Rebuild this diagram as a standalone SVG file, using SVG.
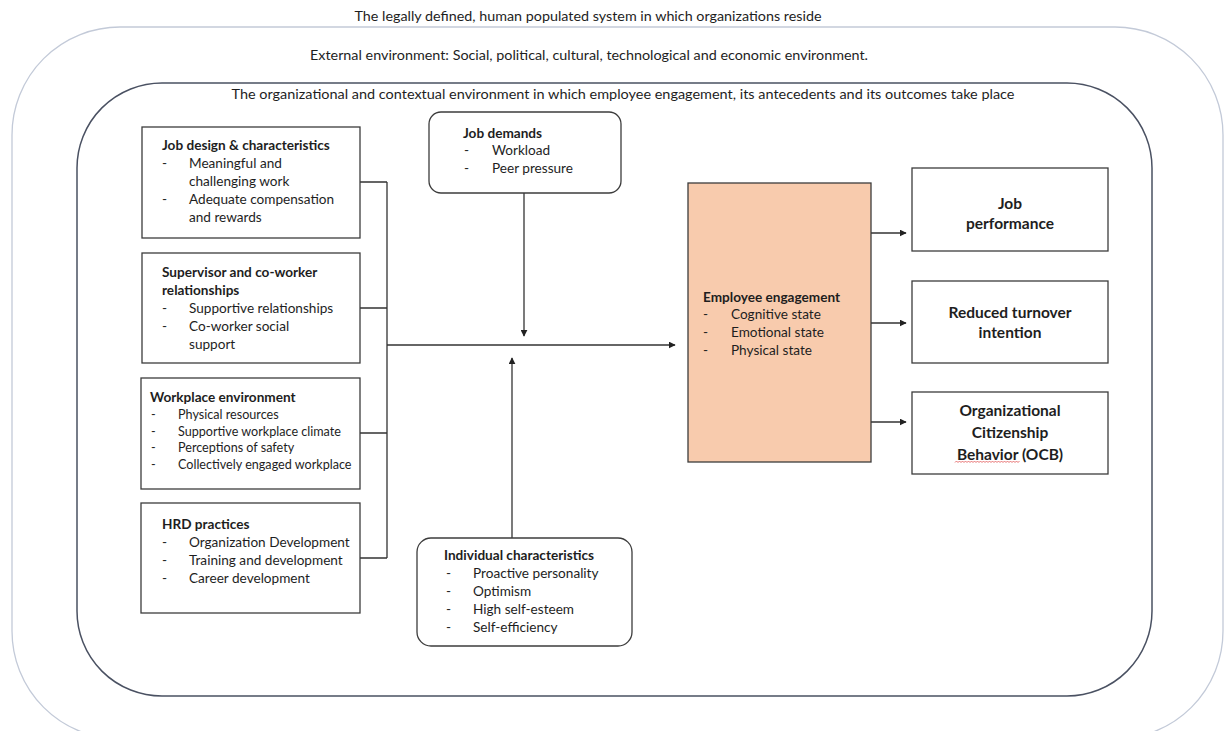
<svg xmlns="http://www.w3.org/2000/svg" width="1230" height="731" viewBox="0 0 1230 731">
  <style>
    text { font-family: Lato, "Liberation Sans", sans-serif; fill: #1e1e1e; }
    .env { font-size: 13px; }
    .t { font-size: 13.6px; }
    .s { font-size: 12.6px; }
    .b { font-weight: bold; }
    .out { font-size: 15.5px; font-weight: bold; text-anchor: middle; }
    .box { fill: #ffffff; stroke: #3c3c3c; stroke-width: 1.3; }
    .conn { fill: none; stroke: #333333; stroke-width: 1.3; }
  </style>
  <defs>
    <marker id="arrow" viewBox="0 0 10 10" refX="9" refY="5" markerWidth="7" markerHeight="7" markerUnits="userSpaceOnUse" orient="auto">
      <path d="M0,0 L10,5 L0,10 Z" fill="#222222"/>
    </marker>
  </defs>

  <rect width="1230" height="731" fill="#ffffff"/>

  <!-- environment layers -->
  <g id="legal-system">
    <rect x="12" y="27" width="1211" height="712" rx="108" ry="108" fill="none" stroke="#c3cad8" stroke-width="1.3"/>
    <text class="env" x="588" y="21" text-anchor="middle" textLength="467" lengthAdjust="spacingAndGlyphs">The legally defined, human populated system in which organizations reside</text>
    <text class="env" x="589" y="60" text-anchor="middle" textLength="558" lengthAdjust="spacingAndGlyphs">External environment: Social, political, cultural, technological and economic environment.</text>
  </g>
  <g id="organizational-context">
    <rect x="77" y="83" width="1075" height="613" rx="85" ry="85" fill="none" stroke="#4a5162" stroke-width="1.5"/>
    <text class="env" x="623" y="99" text-anchor="middle" textLength="783" lengthAdjust="spacingAndGlyphs">The organizational and contextual environment in which employee engagement, its antecedents and its outcomes take place</text>
  </g>

  <!-- connectors -->
  <g id="connectors">
    <path class="conn" d="M360,182 H387 M360,308 H387 M360,433 H387 M360,558 H387 M387,182 V558"/>
    <line class="conn" x1="387" y1="345" x2="675" y2="345" marker-end="url(#arrow)"/>
    <line class="conn" x1="524" y1="193" x2="524" y2="336" marker-end="url(#arrow)"/>
    <line class="conn" x1="512" y1="538" x2="512" y2="358" marker-end="url(#arrow)"/>
    <line class="conn" x1="871" y1="233" x2="906" y2="233" marker-end="url(#arrow)"/>
    <line class="conn" x1="871" y1="323" x2="906" y2="323" marker-end="url(#arrow)"/>
    <line class="conn" x1="871" y1="422" x2="906" y2="422" marker-end="url(#arrow)"/>
  </g>

  <!-- antecedents -->
  <g id="job-design">
    <rect class="box" x="142" y="127" width="218" height="111"/>
    <text class="t b" x="162" y="150">Job design &amp; characteristics</text>
    <text class="t" x="162" y="168">-</text><text class="t" x="189" y="168">Meaningful and</text>
    <text class="t" x="189" y="186">challenging work</text>
    <text class="t" x="162" y="204">-</text><text class="t" x="189" y="204">Adequate compensation</text>
    <text class="t" x="189" y="222">and rewards</text>
  </g>
  <g id="relationships">
    <rect class="box" x="142" y="253" width="218" height="110"/>
    <text class="t b" x="162" y="277">Supervisor and co-worker</text>
    <text class="t b" x="162" y="295">relationships</text>
    <text class="t" x="162" y="313">-</text><text class="t" x="189" y="313">Supportive relationships</text>
    <text class="t" x="162" y="331">-</text><text class="t" x="189" y="331">Co-worker social</text>
    <text class="t" x="189" y="349">support</text>
  </g>
  <g id="workplace-environment">
    <rect class="box" x="141" y="378" width="219" height="111"/>
    <text class="t b" x="150" y="402">Workplace environment</text>
    <text class="s" x="151" y="419">-</text><text class="s" x="178" y="419">Physical resources</text>
    <text class="s" x="151" y="436">-</text><text class="s" x="178" y="436">Supportive workplace climate</text>
    <text class="s" x="151" y="452">-</text><text class="s" x="178" y="452">Perceptions of safety</text>
    <text class="s" x="151" y="469">-</text><text class="s" x="178" y="469">Collectively engaged workplace</text>
  </g>
  <g id="hrd-practices">
    <rect class="box" x="141" y="503" width="219" height="110"/>
    <text class="t b" x="162" y="529">HRD practices</text>
    <text class="t" x="162" y="547">-</text><text class="t" x="189" y="547">Organization Development</text>
    <text class="t" x="162" y="565">-</text><text class="t" x="189" y="565">Training and development</text>
    <text class="t" x="162" y="583">-</text><text class="t" x="189" y="583">Career development</text>
  </g>

  <!-- moderators -->
  <g id="job-demands">
    <rect class="box" x="429" y="112" width="192" height="81" rx="12" ry="12"/>
    <text class="t b" x="463" y="138">Job demands</text>
    <text class="t" x="464" y="155">-</text><text class="t" x="492" y="155">Workload</text>
    <text class="t" x="464" y="173">-</text><text class="t" x="492" y="173">Peer pressure</text>
  </g>
  <g id="individual-characteristics">
    <rect class="box" x="417" y="538" width="215" height="108" rx="14" ry="14"/>
    <text class="t b" x="444" y="560">Individual characteristics</text>
    <text class="t" x="446" y="578">-</text><text class="t" x="473" y="578">Proactive personality</text>
    <text class="t" x="446" y="596">-</text><text class="t" x="473" y="596">Optimism</text>
    <text class="t" x="446" y="614">-</text><text class="t" x="473" y="614">High self-esteem</text>
    <text class="t" x="446" y="632">-</text><text class="t" x="473" y="632">Self-efficiency</text>
  </g>

  <!-- engagement -->
  <g id="employee-engagement">
    <rect x="688" y="183" width="183" height="279" fill="#f8cbad" stroke="#3c3c3c" stroke-width="1.3"/>
    <text class="t b" x="703" y="302">Employee engagement</text>
    <text class="t" x="703" y="319">-</text><text class="t" x="731" y="319">Cognitive state</text>
    <text class="t" x="703" y="337">-</text><text class="t" x="731" y="337">Emotional state</text>
    <text class="t" x="703" y="355">-</text><text class="t" x="731" y="355">Physical state</text>
  </g>

  <!-- outcomes -->
  <g id="job-performance">
    <rect class="box" x="912" y="168" width="196" height="83"/>
    <text class="out" x="1010" y="208.5">Job</text>
    <text class="out" x="1010" y="228.5">performance</text>
  </g>
  <g id="turnover-intention">
    <rect class="box" x="912" y="281" width="196" height="82"/>
    <text class="out" x="1010" y="317.5">Reduced turnover</text>
    <text class="out" x="1010" y="337.5">intention</text>
  </g>
  <g id="ocb">
    <rect class="box" x="912" y="392" width="196" height="82"/>
    <text class="out" x="1010" y="415.5">Organizational</text>
    <text class="out" x="1010" y="437.5">Citizenship</text>
    <text class="out" x="1010" y="459.5">Behavior (OCB)</text>
    <path d="M955,462.5 l1.5,-1.5 l1.5,1.5 l1.5,-1.5 l1.5,1.5 l1.5,-1.5 l1.5,1.5 l1.5,-1.5 l1.5,1.5 l1.5,-1.5 l1.5,1.5 l1.5,-1.5 l1.5,1.5 l1.5,-1.5 l1.5,1.5 l1.5,-1.5 l1.5,1.5 l1.5,-1.5 l1.5,1.5 l1.5,-1.5 l1.5,1.5 l1.5,-1.5 l1.5,1.5 l1.5,-1.5 l1.5,1.5 l1.5,-1.5 l1.5,1.5 l1.5,-1.5 l1.5,1.5 l1.5,-1.5 l1.5,1.5 l1.5,-1.5 l1.5,1.5 l1.5,-1.5 l1.5,1.5 l1.5,-1.5 l1.5,1.5 l1.5,-1.5 l1.5,1.5 l1.5,-1.5 l1.5,1.5 l1.5,-1.5 l1.5,1.5 l1.5,-1.5" fill="none" stroke="#e05050" stroke-width="0.8"/>
  </g>
</svg>
